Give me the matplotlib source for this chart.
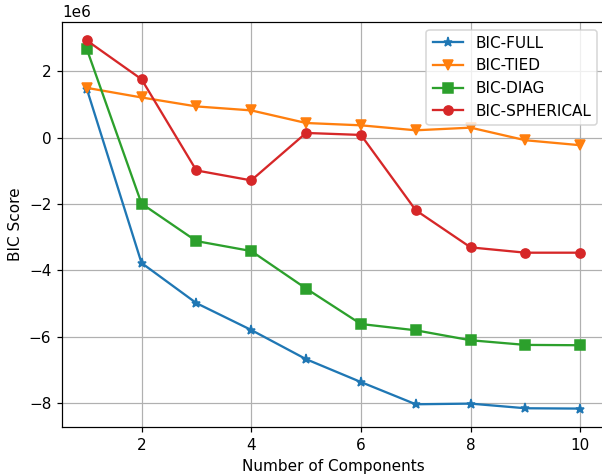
import matplotlib
matplotlib.use("Agg")
import matplotlib.pyplot as plt

components = [1, 2, 3, 4, 5, 6, 7, 8, 9, 10]
bic_full = [1.48e6, -3.78e6, -4.99e6, -5.80e6, -6.68e6, -7.37e6, -8.04e6, -8.02e6, -8.16e6, -8.17e6]
bic_tied = [1.50e6, 1.21e6, 0.94e6, 0.82e6, 0.44e6, 0.37e6, 0.22e6, 0.30e6, -0.08e6, -0.23e6]
bic_diag = [2.68e6, -1.99e6, -3.12e6, -3.42e6, -4.55e6, -5.62e6, -5.81e6, -6.11e6, -6.25e6, -6.26e6]
bic_spherical = [2.93e6, 1.76e6, -0.99e6, -1.29e6, 0.14e6, 0.08e6, -2.19e6, -3.31e6, -3.47e6, -3.47e6]

DPI = 110
fig = plt.figure(figsize=(602 / DPI, 475 / DPI), dpi=DPI)
ax = fig.add_axes([62/602, 1 - 427/475, 543/602, (427 - 22)/475])

ax.plot(components, bic_full, marker='*', markersize=6, label='BIC-FULL')
ax.plot(components, bic_tied, marker='v', markersize=6, label='BIC-TIED')
ax.plot(components, bic_diag, marker='s', markersize=6, label='BIC-DIAG')
ax.plot(components, bic_spherical, marker='o', markersize=6, label='BIC-SPHERICAL')

ax.set_xlabel('Number of Components')
ax.set_ylabel('BIC Score')
ax.grid(True)
ax.legend(loc='upper right')

fig.savefig('out.png', dpi=DPI)
